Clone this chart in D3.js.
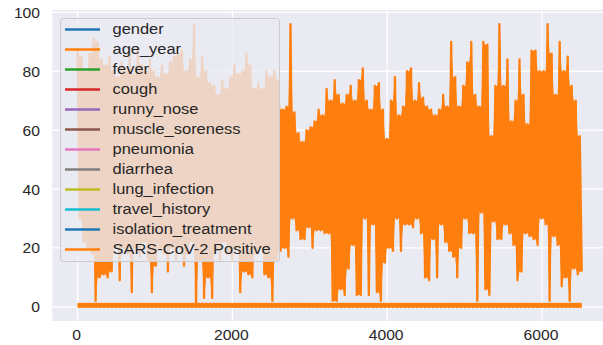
<!DOCTYPE html>
<html>
<head>
<meta charset="utf-8">
<script src="https://cdn.jsdelivr.net/npm/d3@7"></script>
<style>
  body { margin: 0; background: #fff; }
  svg { display: block; font-family: "Liberation Sans", Arial, sans-serif; }
</style>
</head>
<body>
<div id="chart"></div>
<script>
// rows in the dataframe (x runs 0 .. rowCount-1)
const rowCount = 6515;

// legend order = dataframe columns
const columns = [
  "gender", "age_year", "fever", "cough", "runny_nose", "muscle_soreness",
  "pneumonia", "diarrhea", "lung_infection", "travel_history",
  "isolation_treatment", "SARS-CoV-2 Positive"
];
const tab10 = ["#1f77b4", "#ff7f0e", "#2ca02c", "#d62728", "#9467bd",
  "#8c564b", "#e377c2", "#7f7f7f", "#bcbd22", "#17becf"];

const ageYear = [
  88,30, 85,22, 80,20, 86,18, 91,2, 90,10, 84,11, 82,10, 85,12, 80,20,
  78,9, 83,20, 80,18, 86,5, 79,20, 88,17, 82,22, 80,16, 84,5, 80,14,
  78,20, 82,18, 79,12, 83,20, 85,16, 86,20, 87,14, 80,18, 84,22, 96,1,
  78,16, 85,3, 80,10, 76,3, 75,20, 72,16, 77,22, 74,18, 78,16, 82,20,
  79,5, 80,12, 86,11, 82,10, 74,18, 76,20, 74,11, 80,10, 78,2, 80,16,
  77,19, 67,20, 68,17, 96,30, 66,26, 59,23, 56,23, 60,27, 61,20, 63,26,
  67,26, 65,25, 74,25, 70,2, 77,2, 72,6, 69,4, 72,13, 75,21, 70,4,
  77,4, 81,30, 70,4, 67,28, 75,5, 76,2, 67,15, 57,20, 70,19, 78,30,
  65,19, 68,28, 80,28, 81,27, 70,30, 76,25, 71,10, 68,9, 67,23, 65,10,
  67,28, 72,22, 68,19, 90,17, 78,10, 68,20, 75,30, 83,25, 90,25, 72,2,
  68,32, 90,6, 89,4, 58,29, 75,23, 96,23, 75,28, 84,25, 63,21, 70,9,
  84,12, 72,25, 62,24, 87,23, 87,21, 80,30, 80,28, 96,2, 86,24, 72,21,
  90,7, 80,10, 85,2, 75,13, 70,11, 58,12
];

// SARS-CoV-2 Positive flips between 0 and 1 all the way along
const sarsPositive = [
  1,0,1,0,1,0,1,0,1,0,1,0,1,0,1,0,1,0,1,0,1,0,1,0,1,0,1,0,1,0,1,0,1,0,1,0,
  1,0,1,0,1,0,1,0,1,0,1,0,1,0,1,0,1,0,1,0,1,0,1,0,1,0,1,0,1,0,1,0,1,0,1,0,
  1,0,1,0,1,0,1,0,1,0,1,0,1,0,1,0,1,0,1,0,1,0,1,0,1,0,1,0,1,0,1,0,1,0,1,0,
  1,0,1,0,1,0,1,0,1,0,1,0,1,0,1,0,1,0,1,0,1,0,1,0,1,0,1,0,1,0,1,0,1,0,1,0,
  1,0,1,0,1,0,1,0,1,0,1,0,1,0,1,0,1,0,1,0,1,0,1,0,1,0,1,0,1,0,1,0,1,0,1,0,
  1,0,1,0,1,0,1,0,1,0,1,0,1,0,1,0,1,0,1,0,1,0,1,0,1,0,1,0,1,0,1,0,1,0,1,0,
  1,0,1,0,1,0,1,0,1,0,1,0,1,0,1,0,1,0,1,0,1,0,1,0,1,0,1,0,1,0,1,0,1,0,1,0
];

const xTicks = [0, 2000, 4000, 6000];
const yTicks = [0, 20, 40, 60, 80, 100];

const width = 603, height = 345;
const plot = { left: 52.3, right: 607, top: 10, bottom: 321 };
const lw = 2.3;
const textStretch = 1.08;

const x = d3.scaleLinear().domain([-326, rowCount - 1 + 326]).range([plot.left, plot.right]);
const y = d3.scaleLinear().domain([-4.8, 100.8]).range([plot.bottom, plot.top]);

const svg = d3.select("#chart").append("svg")
  .attr("width", width)
  .attr("height", height);

svg.append("rect").attr("width", width).attr("height", height).attr("fill", "#fff");

svg.append("clipPath").attr("id", "clip")
  .append("rect")
  .attr("x", plot.left).attr("y", plot.top)
  .attr("width", plot.right - plot.left).attr("height", plot.bottom - plot.top);

// axes background + grid (seaborn darkgrid)
svg.append("rect")
  .attr("x", plot.left).attr("y", plot.top)
  .attr("width", plot.right - plot.left).attr("height", plot.bottom - plot.top)
  .attr("fill", "#eaeaf2");

const grid = svg.append("g").attr("clip-path", "url(#clip)");
grid.selectAll(".gx").data(xTicks).join("line")
  .attr("x1", (d) => x(d)).attr("x2", (d) => x(d))
  .attr("y1", plot.top).attr("y2", plot.bottom)
  .attr("stroke", "#fff").attr("stroke-width", 1.3);
grid.selectAll(".gy").data(yTicks).join("line")
  .attr("y1", (d) => y(d)).attr("y2", (d) => y(d))
  .attr("x1", plot.left).attr("x2", plot.right)
  .attr("stroke", "#fff").attr("stroke-width", 1.3);

// series: the real line has ~13 rows per pixel, so the space between a
// high and its neighbouring lows is solid; fill that with an area under the stroke
const xAt = (i, n) => x(i * (rowCount - 1) / (n - 1));
const band = (vals) => d3.area()
  .x((d, i) => xAt(i, vals.length))
  .y1((d, i) => {
    const a = vals[Math.max(i - 1, 0)], b = vals[Math.min(i + 1, vals.length - 1)];
    return y(Math.max(d, Math.min(a, b)));
  })
  .y0((d, i) => {
    const a = vals[Math.max(i - 1, 0)], b = vals[Math.min(i + 1, vals.length - 1)];
    return y(Math.min(d, Math.max(a, b)));
  })(vals);

const lines = svg.append("g").attr("clip-path", "url(#clip)");
const drawn = [
  { name: "age_year", values: ageYear, color: tab10[1], curve: d3.curveLinear },
  { name: "SARS-CoV-2 Positive", values: sarsPositive, color: tab10[1], curve: d3.curveStep }
];
const series = lines.selectAll("g").data(drawn).join("g");
series.append("path")
  .attr("fill", (d) => d.color)
  .attr("d", (d) => band(d.values));
series.append("path")
  .attr("fill", "none")
  .attr("stroke", (d) => d.color)
  .attr("stroke-width", lw)
  .attr("stroke-linejoin", "round")
  .attr("d", (d) => d3.line()
    .curve(d.curve)
    .x((v, i) => xAt(i, d.values.length))
    .y((v) => y(v))(d.values));

// tick labels
svg.append("g").selectAll("text").data(yTicks).join("text")
  .attr("transform", (d) => `translate(40, ${y(d) + 5.5}) scale(${textStretch}, 1)`)
  .attr("text-anchor", "end")
  .attr("font-size", 14.5)
  .attr("fill", "#262626")
  .text((d) => d);

svg.append("g").selectAll("text").data(xTicks).join("text")
  .attr("transform", (d) => `translate(${x(d) - 1}, 340) scale(${textStretch}, 1)`)
  .attr("text-anchor", "middle")
  .attr("font-size", 14.5)
  .attr("fill", "#262626")
  .text((d) => d);

// legend
const legend = svg.append("g");
legend.append("rect")
  .attr("x", 60.5).attr("y", 18.5)
  .attr("width", 219).attr("height", 243)
  .attr("rx", 3)
  .attr("fill", "#eaeaf2").attr("fill-opacity", 0.8)
  .attr("stroke", "#cccccc").attr("stroke-width", 1);

const rows = legend.selectAll(".row").data(columns).join("g")
  .attr("transform", (d, i) => `translate(0, ${29.5 + i * 20})`);
rows.append("line")
  .attr("x1", 65).attr("x2", 100)
  .attr("stroke", (d, i) => tab10[i % 10])
  .attr("stroke-width", lw);
rows.append("text")
  .attr("transform", `translate(112.5, 4.5) scale(1.12, 1)`)
  .attr("font-size", 14.7)
  .attr("fill", "#262626")
  .text((d) => d);
</script>
</body>
</html>
